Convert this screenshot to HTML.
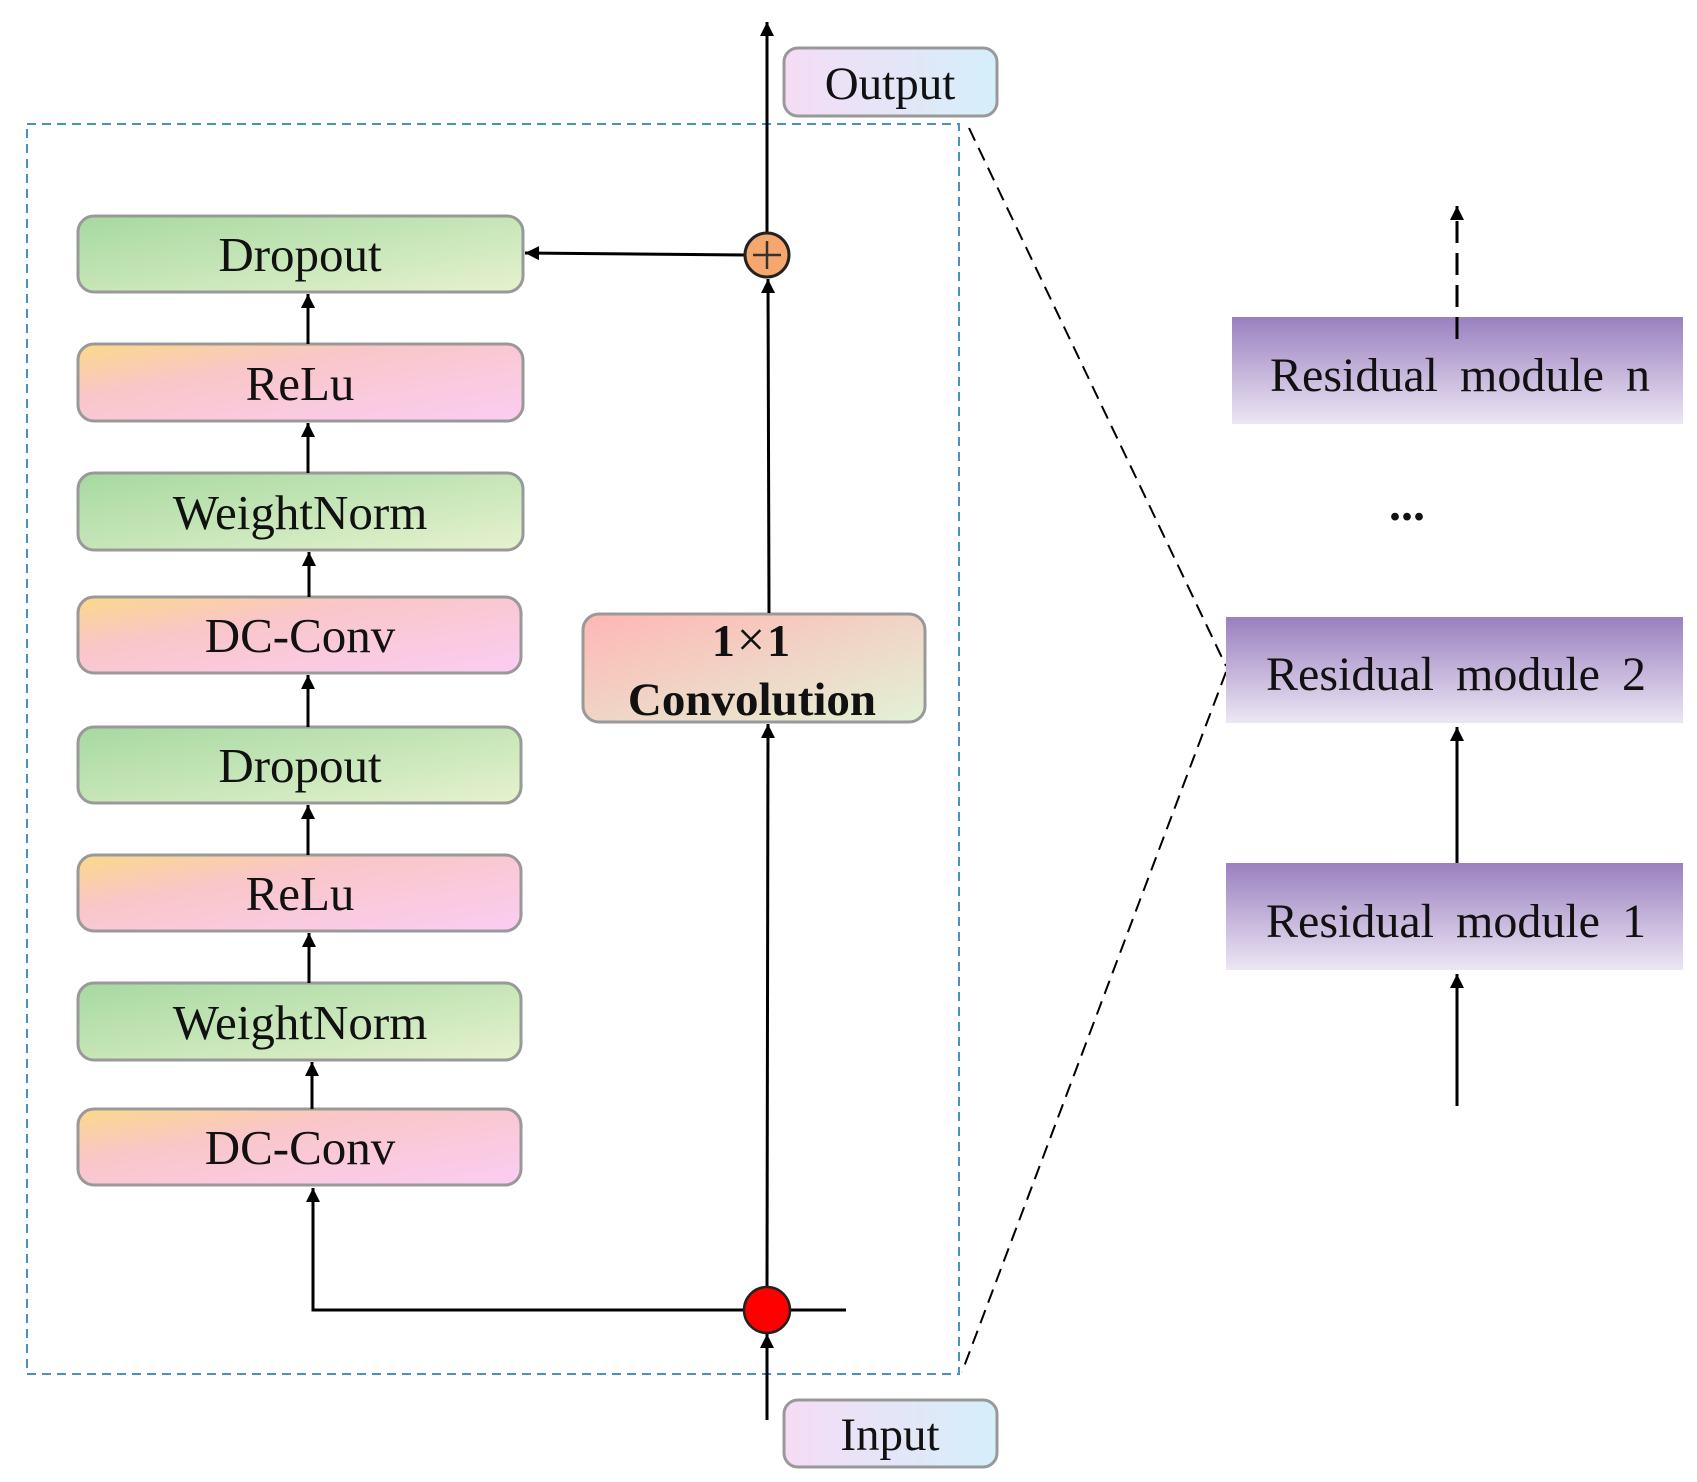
<!DOCTYPE html>
<html><head><meta charset="utf-8"><style>
html,body{margin:0;padding:0;background:#fff;}
svg{display:block;}
text{font-family:"Liberation Serif",serif;fill:#111;}
</style></head><body>
<svg width="1697" height="1482" viewBox="0 0 1697 1482" xmlns="http://www.w3.org/2000/svg">
<defs>
<linearGradient id="g" x1="0" y1="0" x2="1" y2="1"><stop offset="0" stop-color="#a6d9a0"/><stop offset="1" stop-color="#e6f2cf"/></linearGradient>
<linearGradient id="p" x1="0" y1="0" x2="1" y2="1"><stop offset="0" stop-color="#fbd98a"/><stop offset="0.35" stop-color="#f9c6c8"/><stop offset="1" stop-color="#fbcdf3"/></linearGradient>
<linearGradient id="c" x1="0" y1="0" x2="1" y2="1"><stop offset="0" stop-color="#ffb6b4"/><stop offset="1" stop-color="#e2f2d6"/></linearGradient>
<linearGradient id="io" x1="0" y1="0" x2="1" y2="0"><stop offset="0" stop-color="#f5dcf5"/><stop offset="1" stop-color="#d4effa"/></linearGradient>
<linearGradient id="pu" x1="0" y1="0" x2="0" y2="1"><stop offset="0" stop-color="#9a80bf"/><stop offset="1" stop-color="#ece6f4"/></linearGradient>
<marker id="A" viewBox="0 0 10 10" refX="10" refY="5" markerWidth="16" markerHeight="14" orient="auto" markerUnits="userSpaceOnUse"><path d="M0,0 L10,5 L0,10 z" fill="#000"/></marker>
</defs>

<rect x="27" y="124" width="932" height="1250" fill="none" stroke="#4a90c0" stroke-width="2" stroke-dasharray="9,6"/>

<line x1="969" y1="128" x2="1226" y2="666" stroke="#000" stroke-width="2" stroke-dasharray="14,8"/>
<line x1="1226" y1="672" x2="962" y2="1372" stroke="#000" stroke-width="2" stroke-dasharray="14,8"/>

<g stroke="#999" stroke-width="3">
<rect x="78" y="216" width="445" height="76" rx="16" fill="url(#g)"/>
<rect x="78" y="344" width="445" height="77" rx="16" fill="url(#p)"/>
<rect x="78" y="473" width="445" height="77" rx="16" fill="url(#g)"/>
<rect x="78" y="597" width="443" height="76" rx="16" fill="url(#p)"/>
<rect x="78" y="727" width="443" height="76" rx="16" fill="url(#g)"/>
<rect x="78" y="855" width="443" height="76" rx="16" fill="url(#p)"/>
<rect x="78" y="983" width="443" height="77" rx="16" fill="url(#g)"/>
<rect x="78" y="1109" width="443" height="76" rx="16" fill="url(#p)"/>
<rect x="583" y="614" width="342" height="108" rx="16" fill="url(#c)"/>
<rect x="784" y="48" width="213" height="68" rx="14" fill="url(#io)"/>
<rect x="784" y="1400" width="213" height="67" rx="14" fill="url(#io)"/>
</g>

<g font-size="49" text-anchor="middle">
<text x="300" y="271">Dropout</text>
<text x="300" y="400">ReLu</text>
<text x="300" y="529">WeightNorm</text>
<text x="300" y="652">DC-Conv</text>
<text x="300" y="782">Dropout</text>
<text x="300" y="910">ReLu</text>
<text x="300" y="1039">WeightNorm</text>
<text x="300" y="1164">DC-Conv</text>
<text x="890" y="99" font-size="47">Output</text>
<text x="890" y="1450" font-size="47">Input</text>
<text x="752" y="656" font-weight="bold" font-size="46" letter-spacing="2">1<tspan font-weight="normal" font-size="50">×</tspan>1</text>
<text x="752" y="715" font-weight="bold" font-size="47">Convolution</text>
</g>

<rect x="1232" y="317" width="451" height="107" fill="url(#pu)"/>
<rect x="1226" y="617" width="457" height="106" fill="url(#pu)"/>
<rect x="1226" y="863" width="457" height="107" fill="url(#pu)"/>
<g font-size="48" text-anchor="middle" word-spacing="10">
<text x="1460" y="391">Residual module n</text>
<text x="1456" y="690">Residual module 2</text>
<text x="1456" y="937">Residual module 1</text>
</g>
<text x="1407" y="520" font-size="48" font-weight="bold" text-anchor="middle">...</text>

<g stroke="#000" stroke-width="3" fill="none">
<line x1="308" y1="344" x2="308" y2="294" marker-end="url(#A)"/>
<line x1="308" y1="473" x2="308" y2="423" marker-end="url(#A)"/>
<line x1="309" y1="597" x2="309" y2="552" marker-end="url(#A)"/>
<line x1="308" y1="727" x2="308" y2="675" marker-end="url(#A)"/>
<line x1="308" y1="855" x2="308" y2="805" marker-end="url(#A)"/>
<line x1="309" y1="983" x2="309" y2="933" marker-end="url(#A)"/>
<line x1="312" y1="1109" x2="312" y2="1062" marker-end="url(#A)"/>
<polyline points="846,1310 313,1310 313,1188" marker-end="url(#A)"/>
<line x1="767" y1="1420" x2="767" y2="1334" marker-end="url(#A)"/>
<line x1="767" y1="1287" x2="768" y2="724" marker-end="url(#A)"/>
<line x1="769" y1="613" x2="768" y2="279" marker-end="url(#A)"/>
<line x1="745" y1="255" x2="525" y2="253" marker-end="url(#A)"/>
<line x1="767" y1="233" x2="767" y2="22" marker-end="url(#A)"/>
<line x1="1457" y1="339" x2="1457" y2="206" stroke-dasharray="22,10" marker-end="url(#A)"/>
<line x1="1457" y1="863" x2="1457" y2="727" marker-end="url(#A)"/>
<line x1="1457" y1="1106" x2="1457" y2="974" marker-end="url(#A)"/>
</g>

<circle cx="767" cy="255" r="22" fill="#f6a76d" stroke="#222" stroke-width="3"/>
<line x1="753" y1="255" x2="781" y2="255" stroke="#333" stroke-width="2.5"/>
<line x1="767" y1="241" x2="767" y2="269" stroke="#333" stroke-width="2.5"/>
<circle cx="767" cy="1310" r="23" fill="#f00" stroke="#222" stroke-width="2.5"/>
</svg>
</body></html>
